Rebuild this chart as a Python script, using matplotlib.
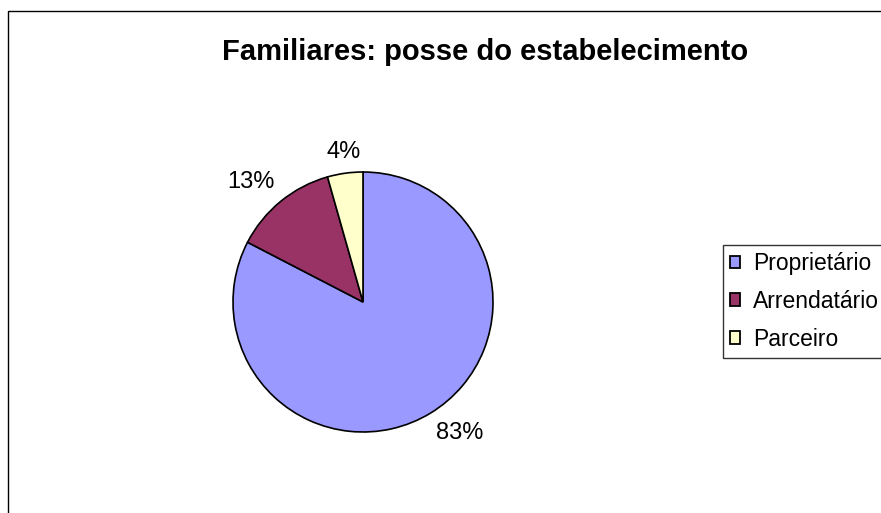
import matplotlib.pyplot as plt
from matplotlib.patches import Rectangle

plt.rcParams['font.family'] = ['Liberation Sans', 'DejaVu Sans']

# data
categories = ['Proprietário', 'Arrendatário', 'Parceiro']
shares = [82.6, 13.0, 4.4]
colors = ['#9999FF', '#993366', '#FFFFCC']

W, H = 881, 513
fig = plt.figure(figsize=(W / 100, H / 100), dpi=100)

# outer frame (runs off the right and bottom edges)
fig.add_artist(Rectangle((8 / W, -0.1), 1.2, 1 - 11 / H + 0.1, transform=fig.transFigure,
                         fill=False, edgecolor='black', linewidth=1.0))

# pie: centre ~(363, 302) px, radius ~130 px
cx, cy, r = 363, 302, 130
ax = fig.add_axes([(cx - r) / W, (H - cy - r) / H, 2 * r / W, 2 * r / H])
labels = ['%d%%' % round(v) for v in shares]
wedges, texts = ax.pie(shares, colors=colors, labels=labels, startangle=90,
                       counterclock=False, labeldistance=1.08,
                       wedgeprops=dict(edgecolor='black', linewidth=1.2),
                       textprops=dict(fontsize=17))
# excel-like label anchoring: nearest corner of the text sits on the ring
for t in texts:
    x, y = t.get_position()
    t.set_va('top' if y < 0 else 'bottom')
    if abs(x) < 0.2:
        t.set_ha('center')
ax.set_xlim(-1, 1)
ax.set_ylim(-1, 1)
ax.set_aspect('equal')
ax.axis('off')

fig.text(485 / W, 1 - 52 / H, 'Familiares: posse do estabelecimento',
         ha='center', va='center', fontsize=21, fontweight='bold')

# legend runs off the right edge, as in the original
leg = fig.legend(wedges, categories, loc='upper left', bbox_to_anchor=(723 / W, 1 - 245 / H),
                 frameon=True, fancybox=False, edgecolor='black', fontsize=16.5,
                 handlelength=0.45, handleheight=0.45, handletextpad=0.55,
                 borderaxespad=0, borderpad=0.3, labelspacing=0.65)
leg.get_frame().set_linewidth(1.0)
for h in leg.legend_handles:
    h.set_linewidth(1.3)

fig.savefig('out.png', dpi=100)
